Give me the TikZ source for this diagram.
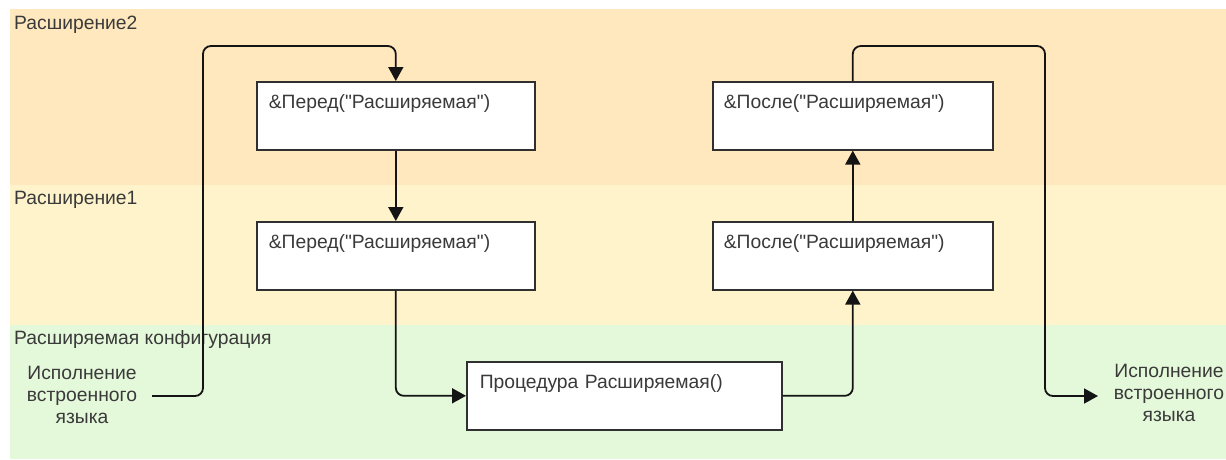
\documentclass[tikz,border=0pt]{standalone}
\usepackage{fontspec}
\setmainfont{Liberation Sans}[Ligatures=TeXOff]
\usetikzlibrary{arrows.meta}
\definecolor{bandA}{HTML}{FFE8BE}
\definecolor{bandB}{HTML}{FFF3CC}
\definecolor{bandC}{HTML}{E4F8DA}
\definecolor{txt}{HTML}{3A3A3A}
\definecolor{edge}{HTML}{303030}
\definecolor{wire}{HTML}{141414}
\begin{document}
\begin{tikzpicture}[x=1pt,y=-1pt,
  font=\fontsize{19.3}{22}\selectfont,
  bandlabel/.style={anchor=base west, inner sep=0pt, text=txt},
  procbox/.style={draw=edge, fill=white, line width=1.6pt, anchor=north west,
    inner xsep=#1, inner ysep=8pt, text height=19pt, text depth=33pt,
    align=left, text=txt},
  sidetext/.style={align=center, inner sep=0pt, text=txt},
  conn/.style={draw=wire, line width=1.8pt, rounded corners=8pt,
    -{Triangle[length=14pt,width=15pt]}}
]
\useasboundingbox (0,0) rectangle (1226,459);
% bands
\fill[bandA] (10,9) rectangle (1226,185);
\fill[bandB] (10,185) rectangle (1226,325);
\fill[bandC] (10,325) rectangle (1226,459);
\node[bandlabel] (l2) at (14,29) {Расширение2};
\node[bandlabel] (l1) at (14,204) {Расширение1};
\node[bandlabel] (l0) at (14,344) {Расширяемая конфигурация};
% boxes
\node[procbox=12pt, text width=254pt] (A) at (256,81) {\&Перед("Расширяемая")};
\node[procbox=12pt, text width=254pt] (B) at (256,221) {\&Перед("Расширяемая")};
\node[procbox=11pt, text width=258pt] (C) at (712,81) {\&После("Расширяемая")};
\node[procbox=11pt, text width=258pt] (D) at (712,221) {\&После("Расширяемая")};
\node[procbox=13pt, text width=289pt] (E) at (466,361) {Процедура Расширяемая()};
% side texts
\node[sidetext] (lt) at (82,395) {Исполнение\\встроенного\\языка};
\node[sidetext] (rt) at (1169,393) {Исполнение\\встроенного\\языка};
\coordinate (ls) at (152,396);
\coordinate (re) at (1098,396);
% connectors
\draw[conn] (ls) -| (203,46) -| (A.north);
\draw[conn] (A.south) -- (B.north);
\draw[conn] (B.south) |- (E.west);
\draw[conn] (E.east) -| (D.south);
\draw[conn] (D.north) -- (C.south);
\draw[conn] (C.north) |- (1045,46) |- (re);
\end{tikzpicture}
\end{document}
